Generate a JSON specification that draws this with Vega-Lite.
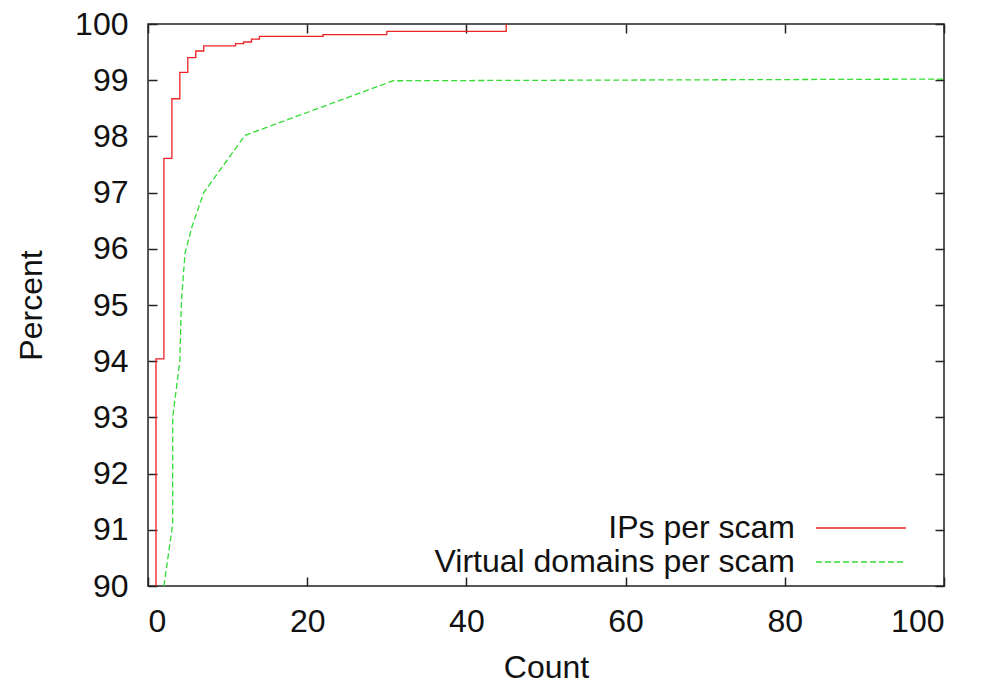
{
  "$schema": "https://vega.github.io/schema/vega-lite/v6.json",
  "width": 796,
  "height": 562,
  "autosize": {"type": "none"},
  "padding": {"left": 148, "top": 24, "right": 44, "bottom": 97},
  "background": "white",
  "config": {
    "font": "Liberation Sans",
    "view": {"stroke": "#222222", "strokeWidth": 1.5},
    "axis": {
      "domain": false,
      "grid": false,
      "tickColor": "#222222",
      "tickWidth": 1.5,
      "tickSize": -9,
      "labelFont": "Liberation Sans",
      "labelFontSize": 32,
      "labelColor": "#111111",
      "titleFont": "Liberation Sans",
      "titleFontSize": 32,
      "titleFontWeight": "normal",
      "titleColor": "#111111"
    },
    "legend": {
      "labelFont": "Liberation Sans",
      "labelFontSize": 32,
      "labelColor": "#111111",
      "labelLimit": 500
    }
  },
  "data": {
    "values": [
      {"series": "IPs per scam", "count": 1, "percent": 90.0},
      {"series": "IPs per scam", "count": 1, "percent": 94.04},
      {"series": "IPs per scam", "count": 2, "percent": 97.61},
      {"series": "IPs per scam", "count": 3, "percent": 98.67},
      {"series": "IPs per scam", "count": 4, "percent": 99.14},
      {"series": "IPs per scam", "count": 5, "percent": 99.40},
      {"series": "IPs per scam", "count": 6, "percent": 99.52},
      {"series": "IPs per scam", "count": 7, "percent": 99.61},
      {"series": "IPs per scam", "count": 11, "percent": 99.65},
      {"series": "IPs per scam", "count": 12, "percent": 99.68},
      {"series": "IPs per scam", "count": 13, "percent": 99.73},
      {"series": "IPs per scam", "count": 14, "percent": 99.78},
      {"series": "IPs per scam", "count": 22, "percent": 99.81},
      {"series": "IPs per scam", "count": 30, "percent": 99.87},
      {"series": "IPs per scam", "count": 45, "percent": 100.0},
      {"series": "Virtual domains per scam", "count": 2, "percent": 90.0},
      {"series": "Virtual domains per scam", "count": 3.1, "percent": 91.1},
      {"series": "Virtual domains per scam", "count": 3.1, "percent": 93.0},
      {"series": "Virtual domains per scam", "count": 4.0, "percent": 94.0},
      {"series": "Virtual domains per scam", "count": 4.2, "percent": 95.08},
      {"series": "Virtual domains per scam", "count": 4.65, "percent": 95.92},
      {"series": "Virtual domains per scam", "count": 5.5, "percent": 96.38},
      {"series": "Virtual domains per scam", "count": 7.0, "percent": 97.0},
      {"series": "Virtual domains per scam", "count": 12.2, "percent": 98.02},
      {"series": "Virtual domains per scam", "count": 30.8, "percent": 98.99},
      {"series": "Virtual domains per scam", "count": 100, "percent": 99.02}
    ]
  },
  "resolve": {"axis": {"x": "independent", "y": "independent"}},
  "layer": [
    {
      "transform": [{"filter": "datum.series === 'IPs per scam'"}],
      "mark": {"type": "line", "interpolate": "step-after", "strokeWidth": 1.3},
      "encoding": {
        "x": {"field": "count", "type": "quantitative",
              "scale": {"domain": [0, 100], "nice": false},
              "axis": {"orient": "bottom", "values": [0, 20, 40, 60, 80, 100], "title": "Count", "labelPadding": 29, "titlePadding": 15}},
        "y": {"field": "percent", "type": "quantitative",
              "scale": {"domain": [90, 100], "zero": false, "nice": false},
              "axis": {"orient": "left", "values": [90, 91, 92, 93, 94, 95, 96, 97, 98, 99, 100], "title": "Percent", "labelPadding": 29, "titlePadding": 26}},
        "color": {"field": "series", "type": "nominal",
                  "scale": {"domain": ["IPs per scam", "Virtual domains per scam"], "range": ["#ee2222", "#33dd33"]},
                  "legend": {"title": null, "orient": "none", "legendX": 697, "legendY": 488, "symbolType": "M-3,0H3", "symbolSize": 900, "symbolStrokeWidth": 1.3, "labelAlign": "right", "labelOffset": -82, "rowPadding": 2}},
        "strokeDash": {"field": "series", "type": "nominal",
                  "scale": {"domain": ["IPs per scam", "Virtual domains per scam"], "range": [[1, 0], [6, 3]]},
                  "legend": {"title": null, "orient": "none", "legendX": 697, "legendY": 488, "symbolType": "M-3,0H3", "symbolSize": 900, "symbolStrokeWidth": 1.3, "labelAlign": "right", "labelOffset": -82, "rowPadding": 2}}
      }
    },
    {
      "transform": [{"filter": "datum.series === 'Virtual domains per scam'"}],
      "mark": {"type": "line", "interpolate": "linear", "strokeWidth": 1.3},
      "encoding": {
        "x": {"field": "count", "type": "quantitative",
              "axis": {"orient": "top", "values": [0, 20, 40, 60, 80, 100], "labels": false, "title": null}},
        "y": {"field": "percent", "type": "quantitative",
              "axis": {"orient": "right", "values": [90, 91, 92, 93, 94, 95, 96, 97, 98, 99, 100], "labels": false, "title": null}},
        "color": {"field": "series", "type": "nominal"},
        "strokeDash": {"field": "series", "type": "nominal"}
      }
    }
  ]
}
